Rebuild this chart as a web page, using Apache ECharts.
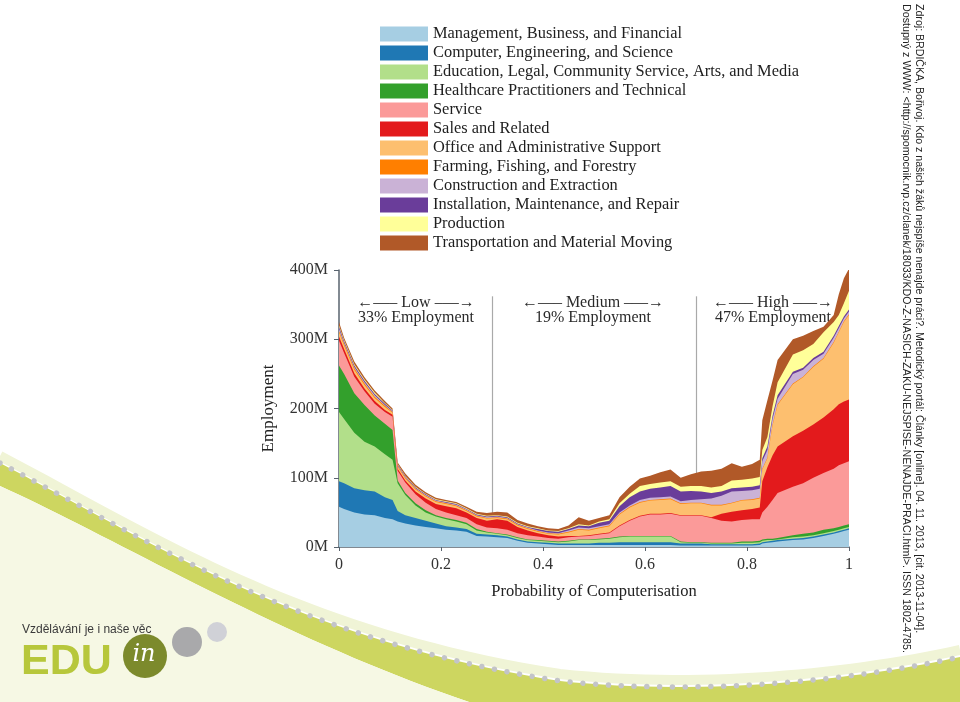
<!DOCTYPE html>
<html>
<head>
<meta charset="utf-8">
<script src="https://cdn.jsdelivr.net/npm/echarts@6/dist/echarts.min.js"></script>
<style>
html,body{margin:0;padding:0;background:#ffffff;}
#chart{width:960px;height:702px;}
</style>
</head>
<body>
<div id="chart"></div>
<script>
// Probability of computerisation (x positions of readings)
const probability = [0,0.01,0.03,0.05,0.07,0.09,0.105,0.115,0.13,0.15,0.17,0.19,0.21,0.23,0.25,0.27,0.29,0.31,0.33,0.35,0.37,0.39,0.41,0.43,0.45,0.47,0.49,0.51,0.53,0.55,0.57,0.59,0.61,0.63,0.65,0.67,0.69,0.71,0.73,0.75,0.77,0.79,0.81,0.825,0.83,0.84,0.85,0.86,0.89,0.91,0.93,0.95,0.97,0.98,0.99,1.0];

// Cumulative employment (millions) at the top of each occupation group
const cumManagement   = [58,55,50,47,46,42,40,37,34,31, 29,27,25,24,22,16,15,14,13,9, 6,5,4,3,3,3,3,3,3,3, 3,3,3,3,3,2,2,2,2,2, 2,2,2,3,5,6,7,8,10,11, 13,16,19,21,23,25];
const cumComputer     = [95,92,85,82,80,72,68,52,46,42, 38,34,30,28,26,19,18,17,15,11, 8,7,6,5,5,5,5,6,6,7, 7,7,7,7,7,5,5,5,4,4, 4,4,4,5,7,8,9,10,12,13, 15,18,21,23,25,27];
const cumEducation    = [195,185,165,152,145,134,126,92,75,60, 50,44,40,37,33,24,21,19,17,13, 10,9,8,7,8,10,10,11,12,14, 15,15,15,15,15,7,6,6,5,5, 5,6,6,7,9,10,10,11,14,15, 17,20,23,25,27,29];
const cumHealthcare   = [262,250,222,205,190,178,169,96,78,63, 53,46,42,39,35,26,22,20,18,14, 11,10,9,8,9,11,11,12,13,15, 16,16,16,16,16,8,7,7,6,6, 6,8,8,9,11,12,12,13,17,19, 21,25,27,29,31,33];
const cumService      = [298,280,246,225,207,195,188,110,93,76, 64,55,50,46,42,33,28,27,25,20, 17,15,13,12,14,15,16,18,20,30, 38,44,47,47,48,45,45,45,42,38, 37,39,40,40,50,58,68,78,87,92, 100,107,113,118,121,124];
const cumSales        = [304,286,251,229,211,198,191,113,96,80, 70,62,59,56,50,42,38,40,38,29, 24,20,17,15,16,16,17,19,21,31, 39,45,48,48,49,46,46,46,43,48, 51,53,55,57,95,115,132,145,160,168, 177,187,199,206,210,213];
const cumOffice       = [310,291,256,234,215,202,194,116,99,83, 73,65,62,59,52,44,41,42,40,31, 26,22,19,18,21,25,24,27,30,47, 57,64,67,68,69,62,63,63,60,60, 63,67,68,70,112,128,175,205,235,245, 260,272,295,310,325,335];
const cumFarming      = [312,293,258,236,217,204,195,117,100,84, 74,66,63,60,53,45,42,43,41,32, 27,23,20,19,22,26,25,28,31,48, 58,65,68,69,70,63,64,64,61,61, 64,68,69,71,113,129,176,206,236,246, 261,273,296,311,326,336];
const cumConstruction = [315,295,260,238,219,205,196,118,101,85, 75,67,64,61,54,46,43,44,42,33, 28,24,21,20,24,28,27,30,33,50, 60,68,71,72,73,66,68,69,70,74, 80,81,82,84,124,140,185,214,250,256, 270,279,302,316,330,340];
const cumInstallation = [318,297,262,240,221,207,197,119,102,86, 76,68,65,62,55,47,44,45,43,34, 29,26,23,22,26,31,30,35,38,59, 72,80,84,86,88,80,81,80,78,80, 85,86,87,89,128,145,189,219,253,259, 273,282,305,319,333,343];
const cumProduction   = [320,299,264,242,223,208,198,120,103,87, 77,69,66,63,56,48,45,46,44,35, 30,27,24,23,27,33,31,37,40,63, 77,88,91,93,95,87,88,88,86,88, 96,97,99,101,140,159,203,238,278,284, 293,310,325,335,352,370];
const cumTransport    = [325,302,268,245,226,211,200,122,106,90, 79,71,68,65,58,51,49,51,50,39, 34,30,27,26,31,43,38,42,46,72, 87,99,103,108,112,100,105,109,110,113, 121,116,120,126,183,212,240,270,300,305, 312,318,335,365,388,402];

const groupNames = [
  'Management, Business, and Financial',
  'Computer, Engineering, and Science',
  'Education, Legal, Community Service, Arts, and Media',
  'Healthcare Practitioners and Technical',
  'Service',
  'Sales and Related',
  'Office and Administrative Support',
  'Farming, Fishing, and Forestry',
  'Construction and Extraction',
  'Installation, Maintenance, and Repair',
  'Production',
  'Transportation and Material Moving'
];
const groupTops = [cumManagement, cumComputer, cumEducation, cumHealthcare, cumService, cumSales,
  cumOffice, cumFarming, cumConstruction, cumInstallation, cumProduction, cumTransport];

// Region dividers and labels
const regionBreaks = [0.3, 0.7];
const regionTitles = ['Low', 'Medium', 'High'];
const regionShares = ['33% Employment', '19% Employment', '47% Employment'];

const xTicks = [0, 0.2, 0.4, 0.6, 0.8, 1];
const yTicks = [0, 100, 200, 300, 400];

const palette = ['#a6cee3','#1f78b4','#b2df8a','#33a02c','#fb9a99','#e31a1c','#fdbf6f','#ff7f00','#cab2d6','#6a3d9a','#ffff99','#b15928'];

const SERIF = '"Liberation Serif", "Times New Roman", serif';
const SANS = '"Liberation Sans", Arial, sans-serif';

const series = groupNames.map((name, i) => ({
  name: name,
  type: 'line',
  data: probability.map((x, k) => [x, groupTops[i][k]]),
  showSymbol: false,
  symbol: 'none',
  color: palette[i],
  lineStyle: { width: 0 },
  areaStyle: { color: palette[i], opacity: 1 },
  z: 30 - i,
  silent: true
}));
series[0].markLine = {
  silent: true,
  symbol: 'none',
  label: { show: false },
  lineStyle: { color: '#a9a9a9', width: 1.2, type: 'solid' },
  data: regionBreaks.map(b => [{ coord: [b, 0] }, { coord: [b, 362] }])
};

// --- decorative slide background (bezier sampled into polylines) ---
function bez(p0, p1, p2, p3, n) {
  const pts = [];
  for (let s = 0; s <= n; s++) {
    const t = s / n, u = 1 - t;
    pts.push([
      u*u*u*p0[0] + 3*u*u*t*p1[0] + 3*u*t*t*p2[0] + t*t*t*p3[0],
      u*u*u*p0[1] + 3*u*u*t*p1[1] + 3*u*t*t*p2[1] + t*t*t*p3[1]
    ]);
  }
  return pts;
}
function shift(pts, dy) { return pts.map(p => [p[0], p[1] + dy]); }
const upper = bez([0,463],[150,541],[300,641],[560,681],40).concat(bez([560,681],[700,696],[850,681],[960,657],30).slice(1));
const lower = bez([0,486],[120,540],[300,650],[500,712],40);
const bandPts = upper.concat([[960,712],[500,712]]).concat(lower.slice().reverse());
const creamPts = lower.concat([[0,712]]);

const graphics = [
  { type: 'polyline', z: 0, shape: { points: shift(upper, -7) },
    style: { fill: null, stroke: '#f0f4d6', lineWidth: 10 } },
  { type: 'polygon', z: 0, shape: { points: bandPts }, style: { fill: '#cdd660', stroke: null } },
  { type: 'polygon', z: 0, shape: { points: creamPts }, style: { fill: '#f6f8e4', stroke: null } },
  { type: 'polyline', z: 0, shape: { points: upper },
    style: { fill: null, stroke: '#c3c4c8', lineWidth: 5.5, lineCap: 'round', lineDash: [0.01, 12.8] } },
  // logo
  { type: 'text', z: 1, x: 22, y: 630, style: { text: 'Vzdělávání je i naše věc', font: '12px ' + SANS, fill: '#3a3a3a', textVerticalAlign: 'middle' } },
  { type: 'text', z: 1, x: 21, y: 662, style: { text: 'EDU', font: 'bold 43px ' + SANS, fill: '#b7c73b', textVerticalAlign: 'middle' } },
  { type: 'circle', z: 1, shape: { cx: 145, cy: 656, r: 22 }, style: { fill: '#7c8a2c' } },
  { type: 'text', z: 2, x: 144, y: 655, style: { text: 'in', font: 'italic 24px "DejaVu Serif", serif', fill: '#ffffff', textAlign: 'center', textVerticalAlign: 'middle' } },
  { type: 'circle', z: 1, shape: { cx: 187, cy: 642, r: 15 }, style: { fill: '#a9a9ab' } },
  { type: 'circle', z: 1, shape: { cx: 217, cy: 632, r: 10 }, style: { fill: '#d0d1d7' } },
  // source citation (rotated)
  { type: 'text', z: 5, x: 919, y: 4, rotation: -Math.PI / 2,
    style: { text: 'Zdroj: BRDIČKA, Bořivoj. Kdo z našich žáků nejspíše nenajde práci?. Metodický portál: Články [online]. 04. 11. 2013, [cit. 2013-11-04].', font: '10.6px ' + SANS, fill: '#222', textVerticalAlign: 'middle' } },
  { type: 'text', z: 5, x: 906, y: 4, rotation: -Math.PI / 2,
    style: { text: 'Dostupný z WWW: <http://spomocnik.rvp.cz/clanek/18033/KDO-Z-NASICH-ZAKU-NEJSPISE-NENAJDE-PRACI.html>. ISSN 1802-4785.', font: '10.7px ' + SANS, fill: '#222', textVerticalAlign: 'middle' } }
];

const regionCentersPx = [416, 593, 773];
regionTitles.forEach((t, i) => {
  graphics.push({ type: 'text', z: 5, x: regionCentersPx[i], y: 303,
    style: { text: '←—– ' + t + ' –—→', font: '16px ' + SERIF, fill: '#2a2a2a', textAlign: 'center', textVerticalAlign: 'middle' } });
  graphics.push({ type: 'text', z: 5, x: regionCentersPx[i], y: 318,
    style: { text: regionShares[i], font: '16px ' + SERIF, fill: '#2a2a2a', textAlign: 'center', textVerticalAlign: 'middle' } });
});

const chart = echarts.init(document.getElementById('chart'), null, { renderer: 'canvas' });
chart.setOption({
  animation: false,
  backgroundColor: '#ffffff',
  grid: { left: 339, top: 270, width: 510, height: 277, containLabel: false },
  legend: {
    data: groupNames,
    orient: 'vertical',
    left: 380,
    top: 26,
    icon: 'rect',
    itemWidth: 48,
    itemHeight: 15,
    itemGap: 3,
    padding: 0,
    selectedMode: false,
    textStyle: { fontFamily: SERIF, fontSize: 16.4, lineHeight: 15, color: '#1e1e1e' }
  },
  xAxis: {
    type: 'value', min: 0, max: 1, interval: 0.2,
    name: 'Probability of Computerisation',
    nameLocation: 'middle', nameGap: 36,
    nameTextStyle: { fontFamily: SERIF, fontSize: 16.5, color: '#222' },
    axisLine: { show: true, lineStyle: { color: '#58636e', width: 1.5 } },
    axisTick: { show: true, length: 4, lineStyle: { color: '#58636e' } },
    splitLine: { show: false },
    axisLabel: { fontFamily: SERIF, fontSize: 16, color: '#333', margin: 10,
      formatter: v => { const t = xTicks.find(a => Math.abs(a - v) < 1e-9); return t === undefined ? '' : String(t); } }
  },
  yAxis: {
    type: 'value', min: 0, max: 400, interval: 100,
    name: 'Employment',
    nameLocation: 'middle', nameGap: 62,
    nameTextStyle: { fontFamily: SERIF, fontSize: 17, color: '#222' },
    axisLine: { show: true, lineStyle: { color: '#58636e', width: 1.5 } },
    axisTick: { show: true, length: 5, lineStyle: { color: '#58636e' } },
    splitLine: { show: false },
    axisLabel: { fontFamily: SERIF, fontSize: 16, color: '#333', margin: 11,
      formatter: v => (yTicks.indexOf(v) >= 0 ? v + 'M' : '') }
  },
  graphic: { elements: graphics },
  series: series
});
</script>
</body>
</html>
